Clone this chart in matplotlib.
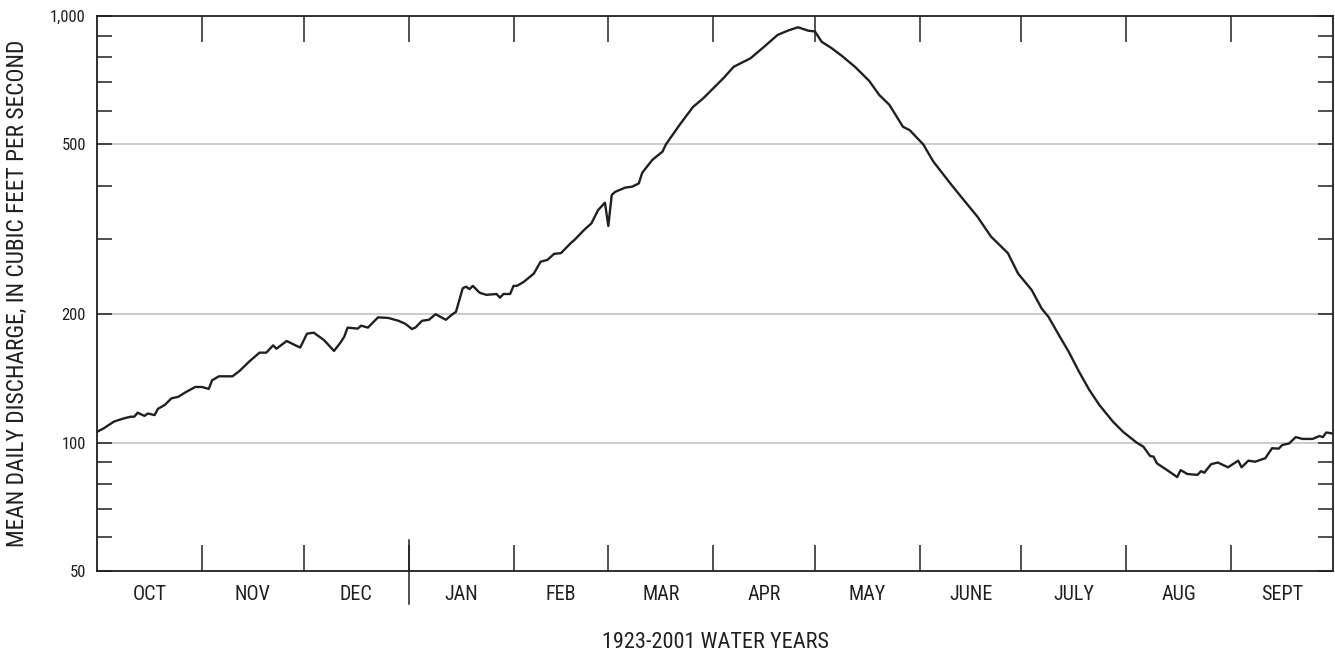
import matplotlib
matplotlib.use("Agg")
import matplotlib.pyplot as plt
import numpy as np
from matplotlib.ticker import FixedLocator, NullFormatter, FixedFormatter

plt.rcParams["font.family"] = ["Roboto Condensed", "Archivo Narrow", "DejaVu Sans"]

# mean daily discharge, 1923-2001 water years
days = [0, 2, 5, 8, 10, 11, 12, 14, 15, 17, 18, 20, 22, 24, 26, 29, 31, 33, 34, 36,
        40, 42, 45, 48, 50, 52, 53, 56, 60, 62, 64, 67, 70, 72, 73, 74, 77, 78, 80, 83,
        86, 89, 91, 93, 94, 96, 98, 100, 103, 105, 106, 108, 109, 110, 111, 113, 115, 118, 119, 120,
        122, 123, 124, 126, 129, 131, 133, 135, 137, 140, 141, 144, 146, 148, 150, 151, 152, 153, 156, 158,
        160, 161, 164, 167, 168, 172, 176, 179, 185, 188, 193, 197, 201, 204, 207, 210, 212, 214, 217, 220,
        224, 228, 231, 234, 238, 240, 244, 247, 252, 256, 260, 264, 269, 272, 276, 279, 281, 284, 287, 290,
        293, 296, 300, 303, 307, 309, 311, 312, 313, 316, 319, 320, 322, 325, 326, 327, 329, 331, 334, 337,
        338, 340, 342, 345, 347, 349, 350, 352, 354, 356, 359, 361, 362, 363, 365]
discharge = [106, 108, 112, 114, 115, 115, 117.5, 115.5, 117, 116, 120, 122.5, 127, 128, 131, 135, 135, 133.6, 140, 143,
             143, 147, 155, 162.5, 162.5, 169, 166, 173, 167, 180, 181, 174, 164, 172, 177, 186, 185, 188, 186, 196.6,
             196, 193, 190, 184.6, 186, 193, 194, 200, 194, 200, 202.5, 230, 232, 229, 233, 224.5, 222, 223, 218.6, 223,
             223, 233, 233, 238, 249, 265.5, 268, 277, 278, 294, 298.6, 316, 326.5, 351, 365, 322, 380.5, 387, 396, 398,
             405, 429, 460, 481, 500, 555, 612, 641, 715, 760, 796, 847, 903, 924, 941, 924, 920, 870, 840, 806,
             758, 705, 653, 619, 550, 540, 500, 455.5, 405, 370, 338.5, 304, 278, 249, 228, 206, 197, 179, 163, 146.6,
             133, 122.5, 112, 106, 100, 97.8, 93, 92.7, 89.4, 86.2, 83, 86.2, 84.4, 84, 85.7, 85, 89, 89.8, 87.5, 90.7,
             87.5, 90.7, 90.2, 91.9, 97, 96.8, 98.7, 99.5, 103, 102, 102, 103.6, 103, 105.6, 105]

months = ["OCT", "NOV", "DEC", "JAN", "FEB", "MAR", "APR", "MAY", "JUNE", "JULY", "AUG", "SEPT"]
month_len = [31, 30, 31, 31, 28, 31, 30, 31, 30, 31, 31, 30]
bounds = np.concatenate([[0], np.cumsum(month_len)])
mids = (bounds[:-1] + bounds[1:]) / 2

y_major = [50, 100, 200, 500, 1000]
y_labels = ["50", "100", "200", "500", "1,000"]
y_minor = [60, 70, 80, 90, 300, 400, 600, 700, 800, 900]

ink = "#231f20"

fig = plt.figure(figsize=(13.35, 6.53), dpi=100)
ax = fig.add_axes([97 / 1335, 82 / 653, 1236 / 1335, 555 / 653])

ax.set_yscale("log")
ax.set_ylim(50, 1000)
ax.set_xlim(0, 365)

for g in [100, 200, 500]:
    ax.axhline(g, color="#c8c8c8", lw=1.3, zorder=1)

ax.plot(days, discharge, color=ink, lw=1.7, zorder=3)

ax.yaxis.set_major_locator(FixedLocator(y_major))
ax.set_yticklabels(y_labels)
ax.yaxis.set_minor_locator(FixedLocator(y_minor))
ax.yaxis.set_minor_formatter(NullFormatter())
ax.tick_params(axis="y", which="both", direction="in", length=11, width=1.1,
               color=ink, left=True, right=True, labelsize=12, pad=8, labelcolor=ink)

ax.xaxis.set_major_locator(FixedLocator(bounds[1:-1]))
ax.xaxis.set_major_formatter(NullFormatter())
ax.xaxis.set_minor_locator(FixedLocator(mids))
ax.xaxis.set_minor_formatter(FixedFormatter(months))
ax.tick_params(axis="x", which="major", direction="in", length=19, width=1.1,
               color=ink, top=True, bottom=True)
ax.tick_params(axis="x", which="minor", length=0, labelsize=14.5, pad=10, labelcolor=ink)

# long tick marking the calendar-year break
ax.axvline(bounds[3], ymin=-0.06, ymax=0.056, color=ink, lw=1.1, clip_on=False)

for s in ax.spines.values():
    s.set_color(ink)
    s.set_linewidth(1.3)

ax.set_ylabel("MEAN DAILY DISCHARGE, IN CUBIC FEET PER SECOND", fontsize=16.8, color=ink, labelpad=15)
ax.set_xlabel("1923-2001 WATER YEARS", fontsize=16, color=ink, labelpad=20)

fig.savefig("out.png", dpi=100)
